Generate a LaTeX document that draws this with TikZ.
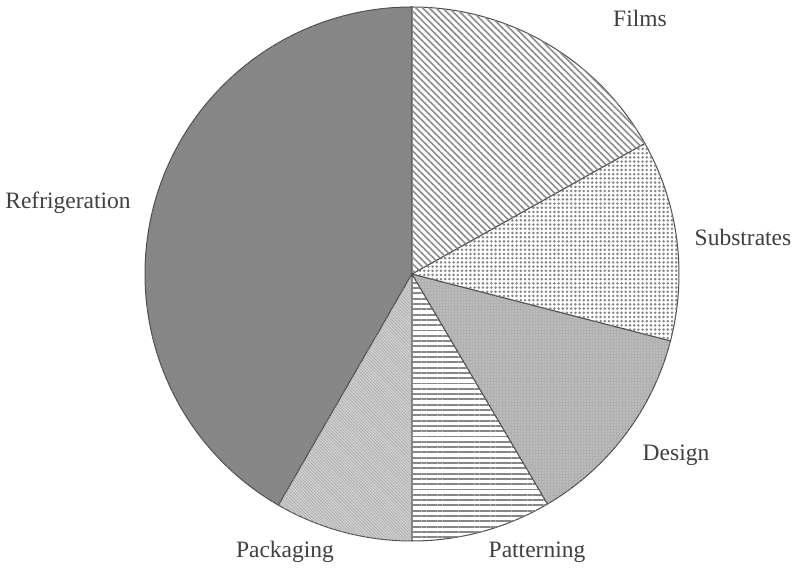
\documentclass[tikz,border=0pt]{standalone}
\usepackage{fontspec}
\setmainfont{Liberation Serif}
\usetikzlibrary{patterns.meta}
\tikzstyle{slice}=[
        draw = black!70,
        line width = 1pt,
        line join = round
    ]
\tikzstyle{slicename}=[
        font = \fontsize{23.5}{28}\selectfont,
        text = black!75,
        inner sep = 0pt
    ]

\begin{document}
\begin{tikzpicture}[x=1pt, y=1pt]
        \useasboundingbox (0,0) rectangle (796,569);
        \coordinate (O) at (412,295);

        % slices, counterclockwise from the top
        \filldraw[slice, fill=gray!95, postaction={pattern={Dots[distance=2.5pt, radius=0.5pt]}, pattern color=black!45}] (O) -- ++(90:267pt) arc[start angle=90, end angle=240, radius=267pt] -- cycle;
        \filldraw[slice, fill=gray!38, postaction={pattern={Lines[angle=-45, distance=2.2pt, line width=0.5pt]}, pattern color=gray!70}] (O) -- ++(240:267pt) arc[start angle=240, end angle=270, radius=267pt] -- cycle;
        \filldraw[slice, fill=white, postaction={pattern={Lines[angle=0, distance=5.3pt, line width=1.9pt]}, pattern color=gray!95}] (O) -- ++(270:267pt) arc[start angle=270, end angle=300.5, radius=267pt] -- cycle;
        \filldraw[slice, fill=gray!62, postaction={pattern={Dots[distance=3pt, radius=0.7pt]}, pattern color=white!75!gray}] (O) -- ++(300.5:267pt) arc[start angle=300.5, end angle=345.5, radius=267pt] -- cycle;
        \filldraw[slice, fill=white, postaction={pattern={Dots[distance=4.2pt, radius=1.4pt]}, pattern color=gray!95}] (O) -- ++(345.5:267pt) arc[start angle=345.5, end angle=389.3, radius=267pt] -- cycle;
        \filldraw[slice, fill=white, postaction={pattern={Lines[angle=-45, distance=4.7pt, line width=1.6pt]}, pattern color=gray!90}] (O) -- ++(29.3:267pt) arc[start angle=29.3, end angle=90, radius=267pt] -- cycle;

        % names
        \node[slicename] (films) at (640,551) {Films};
        \node[slicename] (substrates) at (743,332) {Substrates};
        \node[slicename] (design) at (676,114) {Design};
        \node[slicename] (patterning) at (537,17) {Patterning};
        \node[slicename] (packaging) at (285,17) {Packaging};
        \node[slicename] (refrigeration) at (68,366) {Refrigeration};
    \end{tikzpicture}
\end{document}
